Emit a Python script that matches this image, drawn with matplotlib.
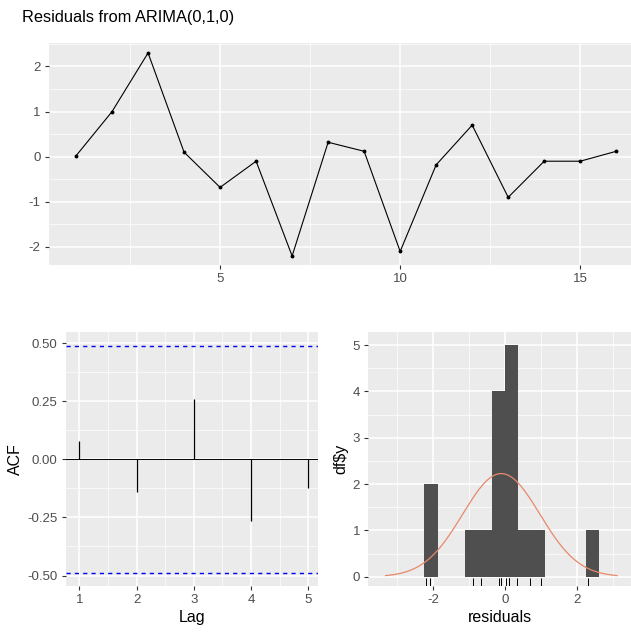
import numpy as np
import matplotlib.pyplot as plt
from matplotlib.ticker import MultipleLocator
import matplotlib.transforms as mtransforms

# residuals
time = list(range(1, 17))
residuals = [0.02, 1.0, 2.3, 0.1, -0.68, -0.1, -2.2, 0.32, 0.12, -2.1,
             -0.18, 0.7, -0.9, -0.1, -0.1, 0.12]

# ACF by lag
lags = [1, 2, 3, 4, 5]
acf_vals = [0.08, -0.14, 0.26, -0.265, -0.125]
conf_bound = 0.49

binwidth = 0.375

plt.rcParams['font.family'] = ['Liberation Sans', 'DejaVu Sans']
plt.rcParams['axes.unicode_minus'] = False

BG = '#EBEBEB'
TICKCOL = '#4D4D4D'


def gg_style(ax, xmaj, xmin_, ymaj, ymin_):
    ax.set_facecolor(BG)
    for s in ax.spines.values():
        s.set_visible(False)
    ax.xaxis.set_major_locator(MultipleLocator(xmaj))
    ax.xaxis.set_minor_locator(MultipleLocator(xmin_))
    ax.yaxis.set_major_locator(MultipleLocator(ymaj))
    ax.yaxis.set_minor_locator(MultipleLocator(ymin_))
    ax.grid(which='major', color='white', linewidth=1.1)
    ax.grid(which='minor', color='white', linewidth=0.5)
    ax.set_axisbelow(True)
    ax.tick_params(which='major', length=3, width=0.8, color='#333333',
                   labelsize=9.5, labelcolor=TICKCOL, pad=3)
    ax.tick_params(which='minor', length=0)


fig = plt.figure(figsize=(6.31, 6.37), dpi=100)

# top: residual time series
ax1 = fig.add_axes([0.0777, 0.584, 0.9223, 0.3485])
gg_style(ax1, 5, 2.5, 1, 0.5)
ax1.plot(time, residuals, color='black', linewidth=0.8, marker='o',
         markersize=1.8)
ax1.set_xlim(0.25, 16.41)
ax1.set_ylim(-2.4, 2.52)
fig.text(0.035, 0.972, 'Residuals from ARIMA(0,1,0)', fontsize=11.8,
         color='black', va='center', ha='left')

# bottom left: ACF
ax2 = fig.add_axes([0.1046, 0.0801, 0.3998, 0.3992])
gg_style(ax2, 1, 0.5, 0.25, 0.125)
ax2.axhline(0, color='black', linewidth=0.7)
ax2.vlines(lags, 0, acf_vals, color='black', linewidth=0.9)
ax2.axhline(conf_bound, color='#0000EE', linestyle=(0, (3, 3)), linewidth=1.0)
ax2.axhline(-conf_bound, color='#0000EE', linestyle=(0, (3, 3)), linewidth=1.0)
ax2.set_xlim(0.768, 5.175)
ax2.set_ylim(-0.545, 0.55)
ax2.yaxis.set_major_formatter(plt.FuncFormatter(lambda v, p: '%.2f' % v))
ax2.set_xlabel('Lag', fontsize=11.5, labelpad=3)
ax2.set_ylabel('ACF', fontsize=11.5, labelpad=3)

# bottom right: histogram with normal curve and rug
ax3 = fig.add_axes([0.5837, 0.0801, 0.4163, 0.3992])
gg_style(ax3, 2, 1, 1, 0.5)
r = np.array(residuals)
edges = np.arange(np.floor(r.min() / binwidth) * binwidth,
                  r.max() + binwidth, binwidth)
ax3.hist(r, bins=edges, color='#4F4F4F', edgecolor='none')
m, s = r.mean(), r.std(ddof=1)
xs = np.linspace(min(m - 3 * s, r.min()), max(m + 3 * s, r.max()), 300)
dens = np.exp(-0.5 * ((xs - m) / s) ** 2) / (s * np.sqrt(2 * np.pi))
ax3.plot(xs, dens * len(r) * binwidth, color='#E8896A', linewidth=0.9)
trans = mtransforms.blended_transform_factory(ax3.transData, ax3.transAxes)
ax3.vlines(r, 0, 0.03, transform=trans, color='black', linewidth=0.7)
ax3.set_xlim(-3.81, 3.51)
ax3.set_ylim(-0.2, 5.29)
ax3.set_xlabel('residuals', fontsize=11.5, labelpad=3)
ax3.set_ylabel('df$y', fontsize=11.5, labelpad=3)

fig.savefig('out.png', dpi=100)
